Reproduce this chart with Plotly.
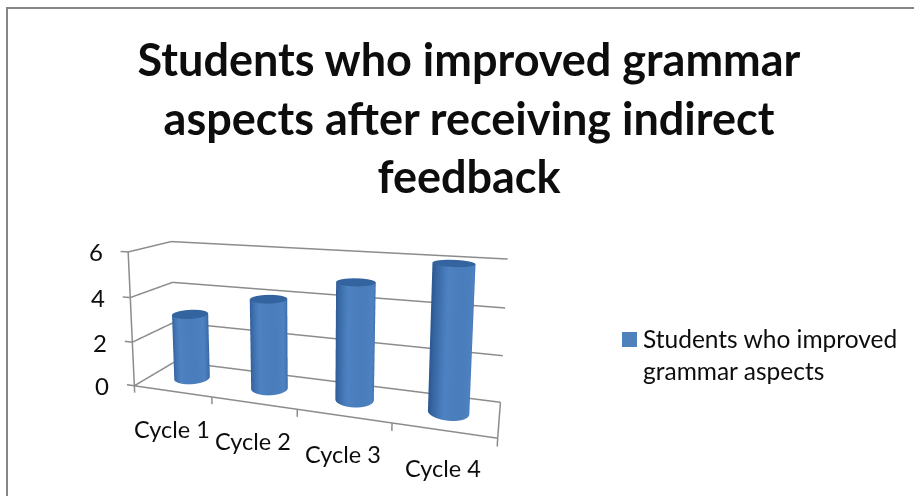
import numpy as np
import plotly.graph_objects as go

categories = ["Cycle 1", "Cycle 2", "Cycle 3", "Cycle 4"]
values = [3, 4, 5, 6]
series_name = "Students who improved<br>grammar aspects"
z_ticks = [0, 2, 4, 6]
title_text = "Students who improved grammar<br>aspects after receiving indirect<br>feedback"

W, D, H = 1.0, 0.22, 0.39
AZ, EL = np.radians(19), np.radians(16)
DIST = 1.65
CENTER_Z = 0.215
ZMAX = z_ticks[-1]
NCAT = len(categories)
R_WORLD = 0.052
rx = R_WORLD * NCAT / W
ry = R_WORLD / D
FONT = "Lato"
GRID = "#8c8c8c"
TEXT = "#0d0d0d"

fig = go.Figure()
cs = [[0, "#2f5a94"], [0.45, "#3c6dab"], [0.8, "#4e82c2"], [1, "#4a7dbb"]]
view_angle = np.arctan2(-np.cos(AZ), np.sin(AZ))
flat = dict(ambient=1, diffuse=0, specular=0, roughness=1, fresnel=0)
for i, v in enumerate(values):
    th = np.linspace(0, 2 * np.pi, 61)
    T, Z = np.meshgrid(th, np.array([0, v]))
    X = i + 0.5 + rx * np.cos(T)
    Y = 0.5 + ry * np.sin(T)
    shade = np.cos(T - view_angle - 0.25)
    fig.add_trace(go.Surface(x=X, y=Y, z=Z, surfacecolor=shade, cmin=-0.1, cmax=1, colorscale=cs,
                             showscale=False, lighting=flat, hoverinfo="skip", scene="scene"))
    T2, R2 = np.meshgrid(th, np.array([0, 1]))
    fig.add_trace(go.Surface(x=i + 0.5 + rx * R2 * np.cos(T2), y=0.5 + ry * R2 * np.sin(T2), z=np.full(T2.shape, v),
                             surfacecolor=np.zeros(T2.shape), cmin=0, cmax=1,
                             colorscale=[[0, "#34649f"], [1, "#34649f"]], showscale=False,
                             lighting=flat, hoverinfo="skip", scene="scene"))

fx, fy, fz = [], [], []
def seg(a, b):
    fx.extend([a[0], b[0], None]); fy.extend([a[1], b[1], None]); fz.extend([a[2], b[2], None])
seg((0, 0, 0), (NCAT, 0, 0))
seg((NCAT, 0, 0), (NCAT, 1, 0))
seg((0, 0, 0), (0, 0, ZMAX))
for i in range(NCAT + 1):
    seg((i, 0, 0), (i, 0, -0.32))
for t in z_ticks:
    seg((0, 0, t), (-0.1, 0, t))
for t in z_ticks:
    seg((0, 0, t), (0, 1, t))
    seg((0, 1, t), (NCAT, 1, t))
fig.add_trace(go.Scatter3d(x=fx, y=fy, z=fz, mode="lines", line=dict(color=GRID, width=3),
                           hoverinfo="skip", showlegend=False, scene="scene"))

fig.add_trace(go.Scatter(x=[None], y=[None], mode="markers",
                         marker=dict(symbol="square", size=15, color="rgba(79,129,189,0)"),
                         name=series_name, showlegend=True))

annots = []
for i, c in enumerate(categories):
    annots.append(dict(x=i + 0.5, y=0, z=0, text=c, showarrow=False, yshift=-38, xshift=0,
                       font=dict(family=FONT, size=23.5, color=TEXT)))
for t in z_ticks:
    annots.append(dict(x=0, y=0, z=t, text=str(t), showarrow=False, xshift=-32, yshift=0,
                       font=dict(family=FONT, size=24, color=TEXT)))

ax_common = dict(showgrid=False, showline=False, zeroline=False, showticklabels=False, ticks="",
                 showbackground=False, showspikes=False, title=dict(text=""))
PX, PY, PZ = 0.4, 0.5, 0.6
fig.update_layout(
    width=914, height=496, margin=dict(l=0, r=0, t=0, b=0),
    paper_bgcolor="white", plot_bgcolor="white",
    font=dict(family=FONT, color=TEXT),
    title=dict(text=f"<b>{title_text}</b>", x=469 / 914, xanchor="center", y=1 - 76 / 496, yanchor="top",
               font=dict(family=FONT, size=45, color=TEXT)),
    xaxis=dict(visible=False), yaxis=dict(visible=False),
    legend=dict(x=603 / 914, y=1 - 316 / 496, xanchor="left", yanchor="top", font=dict(family=FONT, size=24.5, color=TEXT),
                bgcolor="rgba(0,0,0,0)"),
    scene=dict(
        domain=dict(x=[0, 622 / 914], y=[0, 1]),
        aspectmode="manual",
        aspectratio=dict(x=W * (NCAT + 2 * PX) / NCAT, y=D * (1 + 2 * PY), z=H * (ZMAX + 2 * PZ) / ZMAX),
        camera=dict(eye=dict(x=DIST * np.cos(EL) * np.sin(AZ), y=-DIST * np.cos(EL) * np.cos(AZ), z=DIST * np.sin(EL)),
                    up=dict(x=0, y=0, z=1), center=dict(x=0, y=0, z=CENTER_Z)),
        xaxis=dict(range=[-PX, NCAT + PX], **ax_common),
        yaxis=dict(range=[-PY, 1 + PY], **ax_common),
        zaxis=dict(range=[-PZ, ZMAX + PZ], **ax_common),
        annotations=annots,
    ),
    shapes=[dict(type="path", xref="paper", yref="paper",
                 path=f"M {7/914} 0 L {7/914} {1-8/496} L 1 {1-8/496}",
                 line=dict(color="#868686", width=2), layer="below"),
            dict(type="rect", xref="paper", yref="paper", x0=622 / 914, x1=637 / 914,
                 y0=1 - 347 / 496, y1=1 - 332 / 496, fillcolor="#4f81bd", line=dict(width=0))],
)
fig.write_html("out.html", post_script="document.body.style.margin='0';",
               config=dict(displayModeBar=False))
